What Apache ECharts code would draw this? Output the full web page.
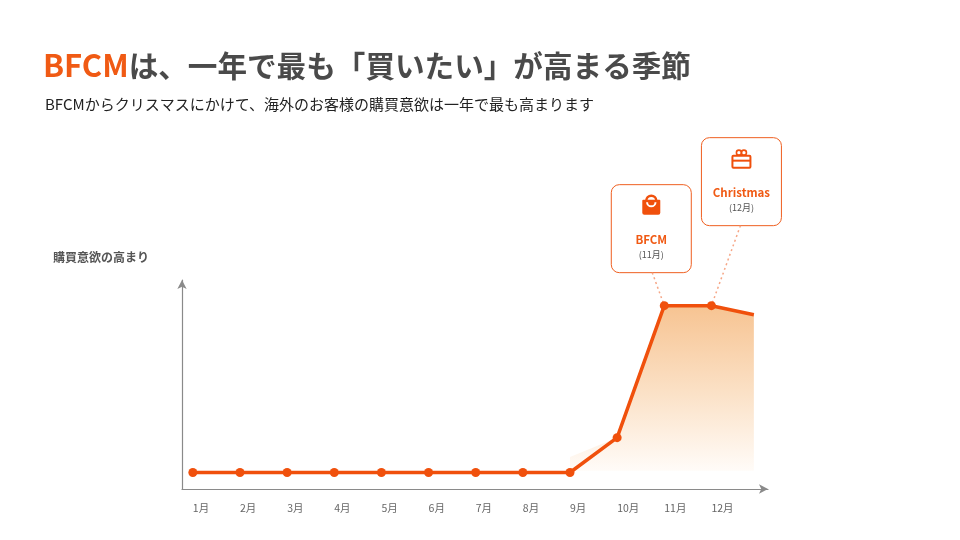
<!DOCTYPE html>
<html>
<head>
<meta charset="utf-8">
<script src="https://cdn.jsdelivr.net/npm/echarts@6/dist/echarts.min.js"></script>
<style>
html,body{margin:0;padding:0;background:#fff;}
#chart{width:960px;height:540px;}
</style>
</head>
<body>
<div id="chart"></div>
<script>
// ---- data ----
const months = ['1月','2月','3月','4月','5月','6月','7月','8月','9月','10月','11月','12月'];
const monthIndex = [1,2,3,4,5,6,7,8,9,10,11,12];
const interest = [9,9,9,9,9,9,9,9,9,28,100,100];
const tailMonth = 12.9;      // line continues past December
const tailValue = 95;
const areaStartValue = 17.5; // faint fill starts above Sept point
const areaBase = 10;
const callouts = [
  {month: 11, title: 'BFCM', sub: '(11月)', icon: 'bag'},
  {month: 12, title: 'Christmas', sub: '(12月)', icon: 'gift'}
];
const titleMain = 'は、一年で最も「買いたい」が高まる季節';
const titleBrand = 'BFCM';
const subtitle = 'BFCMからクリスマスにかけて、海外のお客様の購買意欲は一年で最も高まります';
const yName = '購買意欲の高まり';

const ORANGE = '#f0500c';
const FONT = '"Noto Sans CJK JP","Noto Sans",sans-serif';

const lineData = monthIndex.map((m,i)=>[m, interest[i]]);
lineData.push({value:[tailMonth, tailValue], symbol:'none'});
const areaData = [[9, areaStartValue]];
for (let i = 9; i < 12; i++) areaData.push([monthIndex[i], interest[i]]);
areaData.push([tailMonth, tailValue]);

const chart = echarts.init(document.getElementById('chart'));
chart.setOption({
  backgroundColor:'#fff',
  animation:false,
  title:[
    {left:43, top:50, padding:0, text:'{b|'+titleBrand+'}{m|'+titleMain+'}',
     textStyle:{rich:{
       b:{fontSize:31,fontWeight:'bold',color:'#f05a14',fontFamily:FONT},
       m:{fontSize:29.6,fontWeight:'bold',color:'#4a4a4a',fontFamily:FONT}}}},
    {left:45, top:97, padding:0, text:subtitle, textStyle:{fontSize:15,fontWeight:'normal',color:'#222',fontFamily:FONT}},
    {left:53, top:251, padding:0, text:yName, textStyle:{fontSize:12,fontWeight:'bold',color:'#555',fontFamily:FONT}}
  ],
  grid:{left:182, top:280, width:586, height:209, containLabel:false},
  xAxis:{
    type:'value', min:0.77, max:13.2,
    axisLine:{show:true, lineStyle:{color:'#8a8a8a',width:1.2}, symbol:['none','arrow'], symbolSize:[7,9]},
    axisTick:{show:false},
    splitLine:{show:false},
    axisLabel:{customValues:monthIndex, formatter:v=>months[Math.round(v)-1]||'', align:'left',
      margin:14, color:'#666', fontSize:10.5, fontFamily:FONT}
  },
  yAxis:{
    type:'value', min:0, max:114,
    axisLine:{show:true, lineStyle:{color:'#8a8a8a',width:1.2}, symbol:['none','arrow'], symbolSize:[7,9]},
    axisTick:{show:false}, axisLabel:{show:false}, splitLine:{show:false}
  },
  series:[
    {type:'line', data:areaData, symbol:'none', lineStyle:{width:0}, z:1,
     areaStyle:{origin:areaBase, color:new echarts.graphic.LinearGradient(0,0,0,1,[
       {offset:0,color:'#f3aa63'},{offset:0.5,color:'#f9d2aa'},{offset:1,color:'#fffaf5'}])}},
    {type:'line', data:lineData, z:3, symbol:'circle', symbolSize:9,
     lineStyle:{color:ORANGE,width:3.5}, itemStyle:{color:ORANGE}}
  ]
});

// callouts anchored to data points
const graphics = [];
callouts.forEach(c=>{
  const idx = monthIndex.indexOf(c.month);
  const p = chart.convertToPixel({gridIndex:0}, [c.month, interest[idx]]);
  let bx, by, lx0, ly0;
  if (c.icon==='bag'){ bx = p[0]-53; by = p[1]-121; lx0 = p[0]-12; ly0 = p[1]-33; }
  else { bx = p[0]-10; by = p[1]-168; lx0 = p[0]+29; ly0 = p[1]-80; }
  graphics.push({type:'line', shape:{x1:lx0,y1:ly0,x2:p[0],y2:p[1]}, z:2,
    style:{stroke:'#f6a686', lineWidth:1.5, lineDash:[2,3]}});
  const children = [
    {type:'rect', shape:{x:0,y:0,width:80,height:88,r:8}, style:{fill:'#fff',stroke:'#ef5f20',lineWidth:1}},
    {type:'text', x:40, y:55, style:{text:c.title, fill:'#f05a14', font:'bold 11.5px '+FONT, align:'center', verticalAlign:'middle'}},
    {type:'text', x:40, y:69.5, style:{text:c.sub, fill:'#555', font:'9px '+FONT, align:'center', verticalAlign:'middle'}}
  ];
  if (c.icon==='bag'){
    children.push(
      {type:'arc', shape:{cx:40,cy:16,r:5,startAngle:Math.PI,endAngle:2*Math.PI,clockwise:true}, style:{fill:'none',stroke:ORANGE,lineWidth:2.5}},
      {type:'rect', shape:{x:31,y:15,width:18,height:15,r:[1,1,2,2]}, style:{fill:ORANGE}},
      {type:'arc', shape:{cx:40,cy:17.5,r:4.2,startAngle:0,endAngle:Math.PI,clockwise:true}, style:{fill:'none',stroke:'#fff',lineWidth:2}}
    );
  } else {
    children.push(
      {type:'rect', shape:{x:31,y:18,width:18,height:12,r:1}, style:{fill:'none',stroke:ORANGE,lineWidth:2}},
      {type:'line', shape:{x1:31,y1:23,x2:49,y2:23}, style:{stroke:ORANGE,lineWidth:2}},
      {type:'circle', shape:{cx:37.5,cy:15,r:2.5}, style:{fill:'none',stroke:ORANGE,lineWidth:1.6}},
      {type:'circle', shape:{cx:42.5,cy:15,r:2.5}, style:{fill:'none',stroke:ORANGE,lineWidth:1.6}}
    );
  }
  graphics.push({type:'group', x:bx, y:by, z:5, children});
});
chart.setOption({graphic:graphics});
</script>
</body>
</html>
